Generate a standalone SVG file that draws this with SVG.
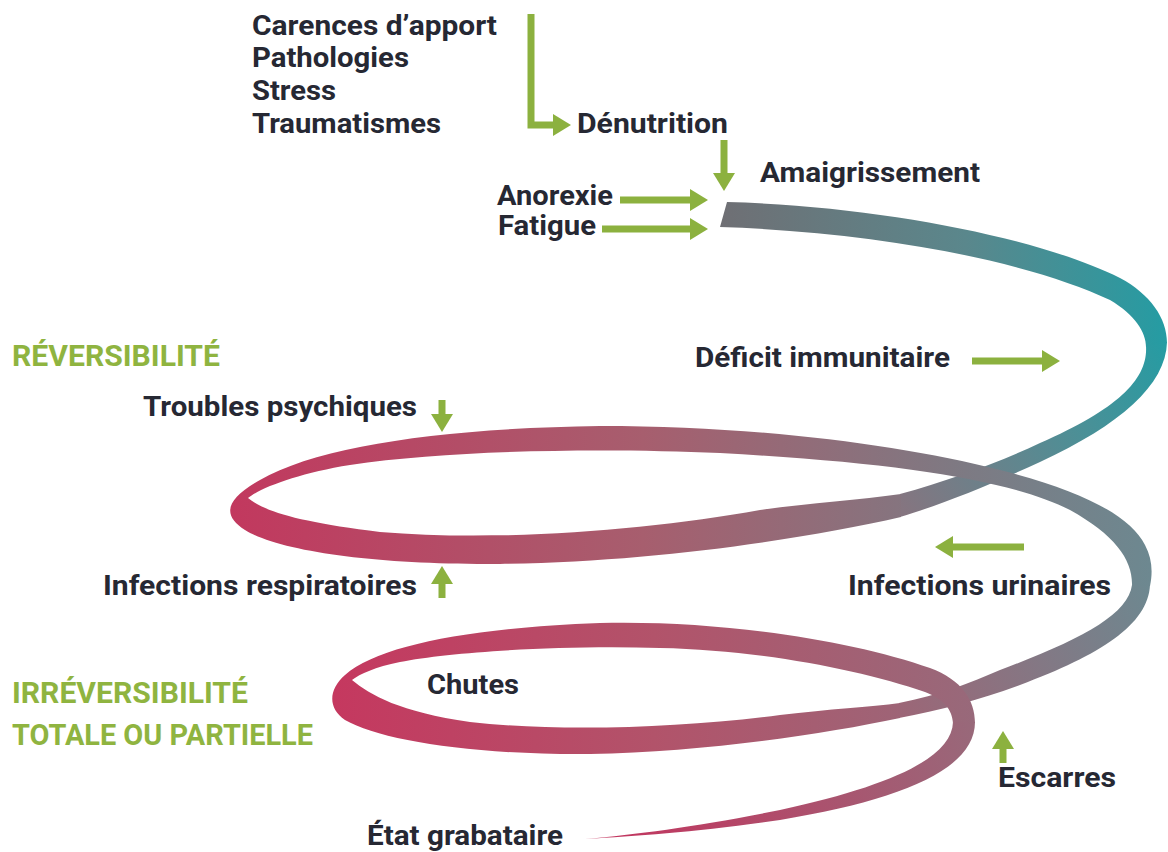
<svg xmlns="http://www.w3.org/2000/svg" width="1168" height="852" viewBox="0 0 1168 852">
<defs>
<style>
.lbl{font-family:Roboto,"Liberation Sans",sans-serif;font-weight:700;font-size:27px;fill:#262833;}
.grn{font-family:Roboto,"Liberation Sans",sans-serif;font-weight:700;font-size:29px;fill:#8fb440;}
.arr{fill:none;stroke:#8cb13f;stroke-width:7;stroke-linejoin:miter;marker-end:url(#head);}
</style>
<marker id="head" viewBox="0 0 18 22" refX="0" refY="11" markerWidth="18" markerHeight="22" markerUnits="userSpaceOnUse" orient="auto">
<path d="M0,0 L18,11 L0,22 Z" fill="#8cb13f"/>
</marker>
<linearGradient id="gA1" gradientUnits="userSpaceOnUse" x1="720" y1="0" x2="1167" y2="0">
<stop offset="0" stop-color="#6f6f74"/><stop offset="0.55" stop-color="#5a878c"/><stop offset="1" stop-color="#259ca3"/>
</linearGradient>
<linearGradient id="gA2" gradientUnits="userSpaceOnUse" x1="1167" y1="342" x2="900" y2="505">
<stop offset="0" stop-color="#259ca3"/><stop offset="0.4" stop-color="#4d8f96"/><stop offset="1" stop-color="#857580"/>
</linearGradient>
<linearGradient id="gB" gradientUnits="userSpaceOnUse" x1="228" y1="0" x2="1150" y2="0">
<stop offset="0" stop-color="#c2385e"/><stop offset="0.45" stop-color="#a75e6e"/><stop offset="0.8" stop-color="#7d7a83"/><stop offset="1" stop-color="#6d8890"/>
</linearGradient>
<linearGradient id="gC1" gradientUnits="userSpaceOnUse" x1="1150" y1="585" x2="900" y2="712">
<stop offset="0" stop-color="#6d8890"/><stop offset="1" stop-color="#9c6677"/>
</linearGradient>
<linearGradient id="gC2" gradientUnits="userSpaceOnUse" x1="333" y1="0" x2="975" y2="0">
<stop offset="0" stop-color="#c5385f"/><stop offset="0.5" stop-color="#b2536a"/><stop offset="1" stop-color="#98697a"/>
</linearGradient>
<linearGradient id="gC3" gradientUnits="userSpaceOnUse" x1="975" y1="722" x2="585" y2="839">
<stop offset="0" stop-color="#98697a"/><stop offset="1" stop-color="#c5325d"/>
</linearGradient>
</defs>
<rect width="1168" height="852" fill="#ffffff"/>

<g id="spiral">
<path fill="url(#gA1)" d="M727,202 C880,206 1040,238 1120,278 C1150,294 1167,318 1167,343 L1146,347 C1146,332 1135,315 1110,300 C1030,262 880,232 720,227 Z"/>
<path fill="url(#gA2)" d="M1167,342 C1166,385 1120,425 1040,462 C990,485 940,505 900,517 L900,494 C950,480 1000,462 1040,443 C1120,408 1148,378 1146,346 Z"/>
<path fill="url(#gB)" d="M901,517 C800,540 650,562 500,564 C380,565 280,552 245,530 C222,515 225,500 260,480 C320,445 450,428 600,426 C760,426 900,445 1000,470 C1080,490 1130,515 1145,545 C1152,558 1153,572 1150,586 L1132,586 C1133,560 1115,535 1070,510 C1010,480 900,463 720,453 C600,448 450,450 350,465 C300,473 262,487 248,498 C265,512 300,522 380,532 C500,542 650,530 760,510 C810,503 860,500 901,494 Z"/>
<path fill="url(#gC1)" d="M1150,585 C1148,625 1100,655 1020,685 C980,700 940,710 899,718 L899,703 C940,695 970,683 1000,670 C1080,640 1128,615 1132,585 Z"/>
<path fill="url(#gC2)" d="M900,718 C820,735 700,752 590,754 C470,755 380,740 345,720 C328,708 328,690 345,675 C380,645 470,628 600,623 C720,620 850,640 930,668 C962,680 975,700 975,723 L953,723 C952,710 945,700 925,692 C860,670 760,650 660,648 C560,645 450,652 400,662 C375,667 360,674 352,680 C370,695 400,712 470,722 C560,732 680,728 780,715 C830,709 870,707 900,703 Z"/>
<path fill="url(#gC3)" d="M975,722 C975,770 900,800 780,820 C700,832 640,836 585,839 C640,834 700,826 780,810 C890,786 952,758 953,722 Z"/>
</g>

<g id="connectors">
<path class="arr" d="M531,14 V125 H553"/>
<path class="arr" d="M724,140 V173"/>
<path class="arr" d="M620,200 H690"/>
<path class="arr" d="M602,229 H690"/>
<path class="arr" d="M972,361 H1042"/>
<path class="arr" d="M442,400 V414"/>
<path class="arr" d="M442,598 V584"/>
<path class="arr" d="M1024,547 H953"/>
<path class="arr" d="M1003,763 V749"/>
</g>

<g id="causes">
<text class="lbl" x="252" y="35" textLength="245" lengthAdjust="spacingAndGlyphs">Carences d’apport</text>
<text class="lbl" x="252" y="67" textLength="157" lengthAdjust="spacingAndGlyphs">Pathologies</text>
<text class="lbl" x="252" y="100" textLength="84" lengthAdjust="spacingAndGlyphs">Stress</text>
<text class="lbl" x="252" y="133" textLength="189" lengthAdjust="spacingAndGlyphs">Traumatismes</text>
</g>
<g id="denutrition"><text class="lbl" x="577" y="133" textLength="151" lengthAdjust="spacingAndGlyphs">Dénutrition</text></g>
<g id="amaigrissement"><text class="lbl" x="760" y="182" textLength="220" lengthAdjust="spacingAndGlyphs">Amaigrissement</text></g>
<g id="anorexie"><text class="lbl" x="497" y="205" textLength="116" lengthAdjust="spacingAndGlyphs">Anorexie</text></g>
<g id="fatigue"><text class="lbl" x="498" y="235" textLength="98" lengthAdjust="spacingAndGlyphs">Fatigue</text></g>
<g id="reversibilite"><text class="grn" x="12" y="366" textLength="208" lengthAdjust="spacingAndGlyphs">RÉVERSIBILITÉ</text></g>
<g id="deficit"><text class="lbl" x="695" y="367" textLength="255" lengthAdjust="spacingAndGlyphs">Déficit immunitaire</text></g>
<g id="troubles"><text class="lbl" x="143" y="416" textLength="274" lengthAdjust="spacingAndGlyphs">Troubles psychiques</text></g>
<g id="respiratoires"><text class="lbl" x="103" y="595" textLength="314" lengthAdjust="spacingAndGlyphs">Infections respiratoires</text></g>
<g id="urinaires"><text class="lbl" x="848" y="595" textLength="263" lengthAdjust="spacingAndGlyphs">Infections urinaires</text></g>
<g id="chutes"><text class="lbl" x="427" y="694" textLength="92" lengthAdjust="spacingAndGlyphs">Chutes</text></g>
<g id="irreversibilite">
<text class="grn" x="12" y="703" textLength="236" lengthAdjust="spacingAndGlyphs">IRRÉVERSIBILITÉ</text>
<text class="grn" x="12" y="745" textLength="301" lengthAdjust="spacingAndGlyphs">TOTALE OU PARTIELLE</text>
</g>
<g id="escarres"><text class="lbl" x="998" y="787" textLength="118" lengthAdjust="spacingAndGlyphs">Escarres</text></g>
<g id="grabataire"><text class="lbl" x="367" y="845" textLength="196" lengthAdjust="spacingAndGlyphs">État grabataire</text></g>
</svg>
